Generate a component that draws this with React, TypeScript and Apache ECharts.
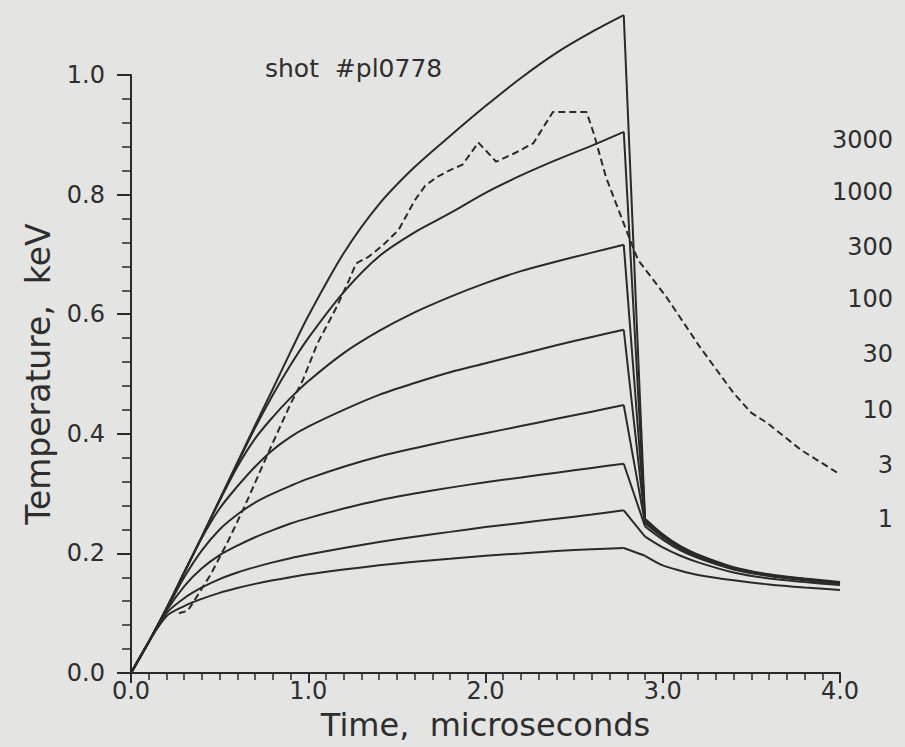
import React, { useEffect, useRef } from "react";
import * as echarts from "echarts";

// ---- data ----
const riseTimes = [0, 0.1, 0.2, 0.3, 0.4, 0.5, 0.6, 0.7, 0.8, 0.9, 1.0, 1.2, 1.4, 1.6, 1.8, 2.0, 2.2, 2.4, 2.6, 2.78];
const fallTimes = [2.9, 3.0, 3.1, 3.2, 3.4, 3.6, 3.8, 4.0];

const rise3000 = [0, 0.052, 0.108, 0.168, 0.228, 0.29, 0.352, 0.414, 0.475, 0.537, 0.597, 0.702, 0.784, 0.846, 0.898, 0.948, 0.995, 1.037, 1.072, 1.10];
const rise1000 = [0, 0.052, 0.108, 0.168, 0.228, 0.29, 0.35, 0.41, 0.465, 0.515, 0.56, 0.637, 0.697, 0.737, 0.769, 0.803, 0.832, 0.858, 0.882, 0.905];
const rise300 = [0, 0.052, 0.108, 0.168, 0.228, 0.288, 0.345, 0.392, 0.428, 0.46, 0.488, 0.535, 0.572, 0.603, 0.629, 0.652, 0.672, 0.688, 0.703, 0.716];
const rise100 = [0, 0.052, 0.108, 0.168, 0.226, 0.275, 0.312, 0.345, 0.373, 0.395, 0.412, 0.44, 0.465, 0.485, 0.503, 0.518, 0.533, 0.548, 0.562, 0.574];
const rise30 = [0, 0.052, 0.106, 0.16, 0.205, 0.24, 0.265, 0.285, 0.3, 0.313, 0.325, 0.345, 0.362, 0.376, 0.389, 0.401, 0.413, 0.425, 0.437, 0.448];
const rise10 = [0, 0.052, 0.104, 0.145, 0.175, 0.197, 0.213, 0.227, 0.239, 0.25, 0.259, 0.275, 0.289, 0.3, 0.31, 0.319, 0.327, 0.335, 0.343, 0.35];
const rise3 = [0, 0.052, 0.1, 0.125, 0.143, 0.157, 0.168, 0.177, 0.185, 0.192, 0.198, 0.209, 0.219, 0.228, 0.236, 0.244, 0.251, 0.258, 0.265, 0.272];
const rise1 = [0, 0.052, 0.095, 0.112, 0.124, 0.134, 0.142, 0.149, 0.155, 0.16, 0.165, 0.173, 0.18, 0.186, 0.191, 0.196, 0.2, 0.204, 0.207, 0.209];

const fall3000 = [0.258, 0.232, 0.212, 0.198, 0.177, 0.165, 0.158, 0.152];
const fall1000 = [0.257, 0.231, 0.211, 0.197, 0.176, 0.164, 0.157, 0.151];
const fall300 = [0.255, 0.23, 0.21, 0.196, 0.176, 0.164, 0.157, 0.151];
const fall100 = [0.253, 0.229, 0.209, 0.195, 0.175, 0.163, 0.156, 0.15];
const fall30 = [0.25, 0.227, 0.208, 0.194, 0.174, 0.163, 0.156, 0.15];
const fall10 = [0.245, 0.223, 0.205, 0.192, 0.173, 0.162, 0.155, 0.149];
const fall3 = [0.228, 0.21, 0.196, 0.185, 0.168, 0.158, 0.152, 0.147];
const fall1 = [0.196, 0.18, 0.171, 0.164, 0.155, 0.148, 0.143, 0.139];

const curveLabels = ["3000", "1000", "300", "100", "30", "10", "3", "1"];
const riseValues = [rise3000, rise1000, rise300, rise100, rise30, rise10, rise3, rise1];
const fallValues = [fall3000, fall1000, fall300, fall100, fall30, fall10, fall3, fall1];

const expTimes = [0.27, 0.32, 0.37, 0.45, 0.55, 0.64, 0.74, 0.8, 0.9, 0.97, 1.05, 1.16, 1.23, 1.27, 1.34, 1.42, 1.51, 1.6, 1.66, 1.73, 1.8, 1.87, 1.96, 2.06, 2.17, 2.27, 2.38, 2.57, 2.61, 2.68, 2.8, 2.86, 3.02, 3.21, 3.4, 3.5, 3.59, 3.78, 3.99];
const expValues = [0.1, 0.104, 0.127, 0.165, 0.222, 0.278, 0.345, 0.385, 0.45, 0.49, 0.55, 0.612, 0.657, 0.685, 0.696, 0.715, 0.741, 0.79, 0.815, 0.83, 0.841, 0.85, 0.887, 0.855, 0.87, 0.886, 0.938, 0.938, 0.903, 0.829, 0.736, 0.691, 0.629, 0.545, 0.468, 0.435, 0.418, 0.373, 0.334];

const xTicks = [0, 1, 2, 3, 4];
const yTicks = [0, 0.2, 0.4, 0.6, 0.8, 1.0];
const titleText = "shot  #pl0778";
const xName = "Time,  microseconds";
const yName = "Temperature,  keV";

const INK = "#2a2a2a";
const TXT = "#2e2e2e";
const FONT = "DejaVu Sans";

export default function App() {
  const ref = useRef<HTMLDivElement>(null);
  useEffect(() => {
    if (!ref.current) return;
    const chart = echarts.init(ref.current, null, { renderer: "svg" });

    const base = {
      type: "line",
      clip: false,
      showSymbol: false,
      symbol: "none",
      silent: true,
      lineStyle: { color: INK, width: 2 },
    };

    const solid: any[] = [];
    curveLabels.forEach((name, i) => {
      const last = riseTimes.length - 1;
      solid.push({
        ...base,
        name,
        smooth: 0.3,
        data: riseTimes.map((t, k) => [t, riseValues[i][k]]),
      });
      solid.push({
        ...base,
        name,
        data: [
          [riseTimes[last], riseValues[i][last]],
          [fallTimes[0], fallValues[i][0]],
        ],
      });
      solid.push({
        ...base,
        name,
        smooth: 0.3,
        data: fallTimes.map((t, k) => [t, fallValues[i][k]]),
      });
    });

    const labelY = [140, 192, 247, 299, 354, 410, 465, 519];

    chart.setOption({
      animation: false,
      backgroundColor: "#e4e4e2",
      grid: { left: 131, right: 65, top: 75, bottom: 74, outerBoundsMode: "none", containLabel: false },
      xAxis: {
        type: "value",
        min: xTicks[0],
        max: xTicks[xTicks.length - 1],
        interval: 1,
        name: xName,
        nameLocation: "middle",
        nameGap: 36,
        nameTextStyle: { fontFamily: FONT, fontSize: 32, color: TXT },
        axisLine: { show: true, lineStyle: { color: INK, width: 2 } },
        axisTick: { show: true, length: 10, lineStyle: { color: INK, width: 2 } },
        minorTick: { show: true, splitNumber: 10, length: 7, lineStyle: { color: INK, width: 1.5 } },
        splitLine: { show: false },
        axisLabel: {
          margin: 6,
          fontFamily: FONT,
          fontSize: 24,
          color: TXT,
          formatter: (v: number) => v.toFixed(1),
        },
      },
      yAxis: {
        type: "value",
        min: yTicks[0],
        max: yTicks[yTicks.length - 1],
        interval: 0.2,
        name: yName,
        nameLocation: "middle",
        nameGap: 76,
        nameRotate: 90,
        nameTextStyle: { fontFamily: FONT, fontSize: 33, color: TXT },
        axisLine: { show: true, lineStyle: { color: INK, width: 2 } },
        axisTick: { show: true, length: 14, lineStyle: { color: INK, width: 2 } },
        minorTick: { show: true, splitNumber: 5, length: 9, lineStyle: { color: INK, width: 1.5 } },
        splitLine: { show: false },
        axisLabel: {
          margin: 26,
          fontFamily: FONT,
          fontSize: 24,
          color: TXT,
          formatter: (v: number) => v.toFixed(1),
        },
      },
      graphic: [
        {
          type: "text",
          left: 265,
          top: 56,
          style: { text: titleText, fontFamily: FONT, fontSize: 25, fill: TXT },
        },
        ...curveLabels.map((lab, i) => ({
          type: "text",
          x: 893,
          y: labelY[i],
          style: {
            text: lab,
            fontFamily: FONT,
            fontSize: 24,
            fill: TXT,
            textAlign: "right",
            textVerticalAlign: "middle",
          },
        })),
      ],
      series: [
        ...solid,
        {
          name: "experiment",
          type: "line",
          clip: false,
          showSymbol: false,
          symbol: "none",
          silent: true,
          lineStyle: { color: INK, width: 2, type: [7, 4] },
          data: expTimes.map((t, k) => [t, expValues[k]]),
        },
      ],
    });
    return () => chart.dispose();
  }, []);

  return (
    <div style={{ position: "fixed", left: 0, top: 0, width: 905, height: 747, background: "#e4e4e2" }}>
      <div ref={ref} style={{ width: 905, height: 747 }} />
    </div>
  );
}
